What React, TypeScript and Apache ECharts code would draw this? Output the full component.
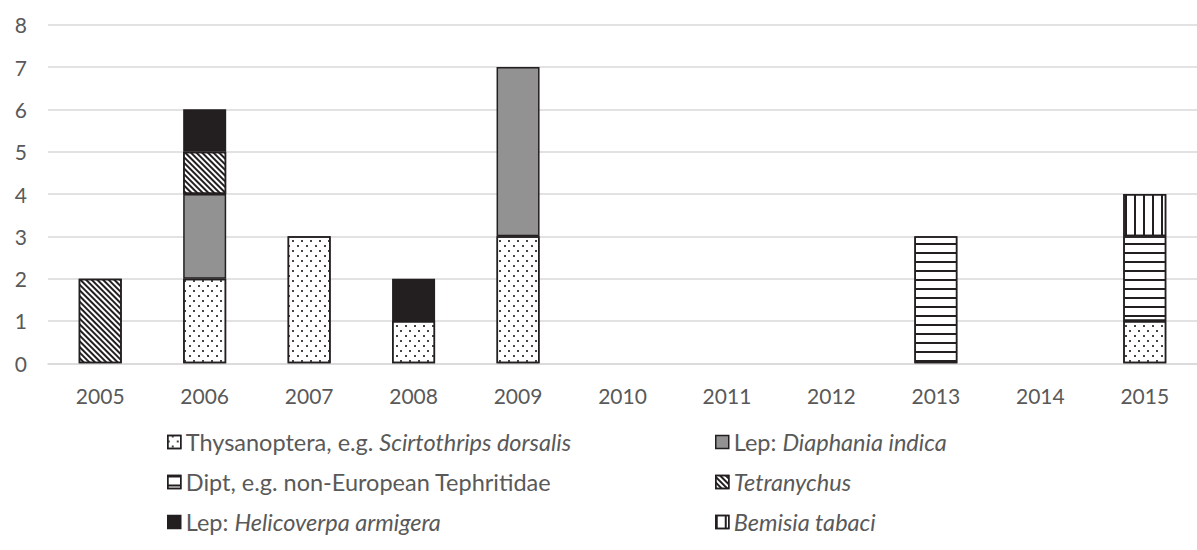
import React, { useEffect, useRef } from "react";
import * as echarts from "echarts";

const years = ["2005", "2006", "2007", "2008", "2009", "2010", "2011", "2012", "2013", "2014", "2015"];
const thysanoptera = [0, 2, 3, 1, 3, 0, 0, 0, 0, 0, 1];
const diaphania = [0, 2, 0, 0, 4, 0, 0, 0, 0, 0, 0];
const dipt = [0, 0, 0, 0, 0, 0, 0, 0, 3, 0, 2];
const tetranychus = [2, 1, 0, 0, 0, 0, 0, 0, 0, 0, 0];
const helicoverpa = [0, 1, 0, 1, 0, 0, 0, 0, 0, 0, 0];
const bemisia = [0, 0, 0, 0, 0, 0, 0, 0, 0, 0, 1];
const yTicks = [0, 8, 1];

const FONT = "Lato";
const INK = "#231f20";
const TXT = "#595959";
const AXIS_FS = 21;
const LEG_FS = 23.5;

const names = {
  thys: "Thysanoptera, e.g. Scirtothrips dorsalis",
  diap: "Lep: Diaphania indica",
  dipt: "Dipt, e.g. non-European Tephritidae",
  tetr: "Tetranychus",
  heli: "Lep: Helicoverpa armigera",
  bemi: "Bemisia tabaci",
};

const legendRich: Record<string, string> = {
  [names.thys]: "{n|Thysanoptera, e.g. }{i|Scirtothrips dorsalis}",
  [names.diap]: "{n|Lep: }{i|Diaphania indica}",
  [names.dipt]: "{n|Dipt, e.g. non-European Tephritidae}",
  [names.tetr]: "{i|Tetranychus}",
  [names.heli]: "{n|Lep: }{i|Helicoverpa armigera}",
  [names.bemi]: "{i|Bemisia tabaci}",
};

const nz = (a: number[]) => a.map((v) => (v === 0 ? null : v));

export default function App() {
  const ref = useRef<HTMLDivElement>(null);
  useEffect(() => {
    if (!ref.current) return;
    const chart = echarts.init(ref.current, undefined, { renderer: "svg" });
    const baseItem = { borderColor: INK, borderWidth: 1.5 };
    const mk = (name: string, data: number[], color: string, decal?: any) => ({
      name,
      type: "bar",
      stack: "total",
      barWidth: 43,
      data: nz(data),
      itemStyle: { ...baseItem, color, ...(decal ? { decal } : {}) },
    });
    const rich = {
      n: { fontFamily: FONT, fontSize: LEG_FS, lineHeight: 24, color: TXT },
      i: { fontFamily: FONT, fontSize: LEG_FS, lineHeight: 24, color: TXT, fontStyle: "italic" },
    };
    const legendCommon = {
      orient: "vertical",
      top: 425,
      itemWidth: 13,
      itemHeight: 13,
      itemGap: 16,
      icon: "rect",
      selectedMode: false,
      itemStyle: { borderColor: INK, borderWidth: 1.5 },
      formatter: (n: string) => legendRich[n] || n,
      textStyle: { fontFamily: FONT, fontSize: LEG_FS, lineHeight: 24, color: TXT, rich },
    };
    chart.setOption({
      animation: false,
      backgroundColor: "#ffffff",
      grid: { left: 48, right: -14, top: 24.7, bottom: 186.7 },
      legend: [
        { ...legendCommon, left: 162, data: [names.thys, names.dipt, names.heli] },
        { ...legendCommon, left: 710, data: [names.diap, names.tetr, names.bemi] },
      ],
      xAxis: {
        type: "category",
        data: years,
        axisTick: { show: false },
        axisLine: { lineStyle: { color: "#d9d9d9", width: 1.5 } },
        axisLabel: { color: TXT, fontFamily: FONT, fontSize: AXIS_FS, margin: 22 },
      },
      yAxis: {
        type: "value",
        min: yTicks[0],
        max: yTicks[1],
        interval: yTicks[2],
        axisLine: { show: false },
        axisTick: { show: false },
        splitLine: { lineStyle: { color: "#d9d9d9", width: 1.5 } },
        axisLabel: { color: TXT, fontFamily: FONT, fontSize: AXIS_FS, margin: 21 },
      },
      series: [
        mk(names.thys, thysanoptera, "#ffffff", {
          symbol: "rect",
          symbolSize: 1,
          color: "#444444",
          dashArrayX: [[1.5, 6.5], [0, 4, 1.5, 2.5]],
          dashArrayY: [1.5, 2.5],
        }),
        mk(names.diap, diaphania, "#929292"),
        mk(names.dipt, dipt, "#ffffff", {
          symbol: "rect",
          symbolSize: 1,
          color: INK,
          dashArrayX: [1, 0],
          dashArrayY: [1.6, 6.5],
        }),
        mk(names.tetr, tetranychus, "#ffffff", {
          symbol: "rect",
          symbolSize: 1,
          color: INK,
          dashArrayX: [1, 0],
          dashArrayY: [1.5, 1.6],
          rotation: Math.PI / 4,
        }),
        mk(names.heli, helicoverpa, INK),
        mk(names.bemi, bemisia, "#ffffff", {
          symbol: "rect",
          symbolSize: 1,
          color: INK,
          dashArrayX: [1.6, 6.1],
          dashArrayY: [1, 0],
        }),
      ],
    });
    return () => chart.dispose();
  }, []);
  return (
    <div
      ref={ref}
      style={{ position: "absolute", left: 0, top: 0, width: 1197, height: 550 }}
    />
  );
}
